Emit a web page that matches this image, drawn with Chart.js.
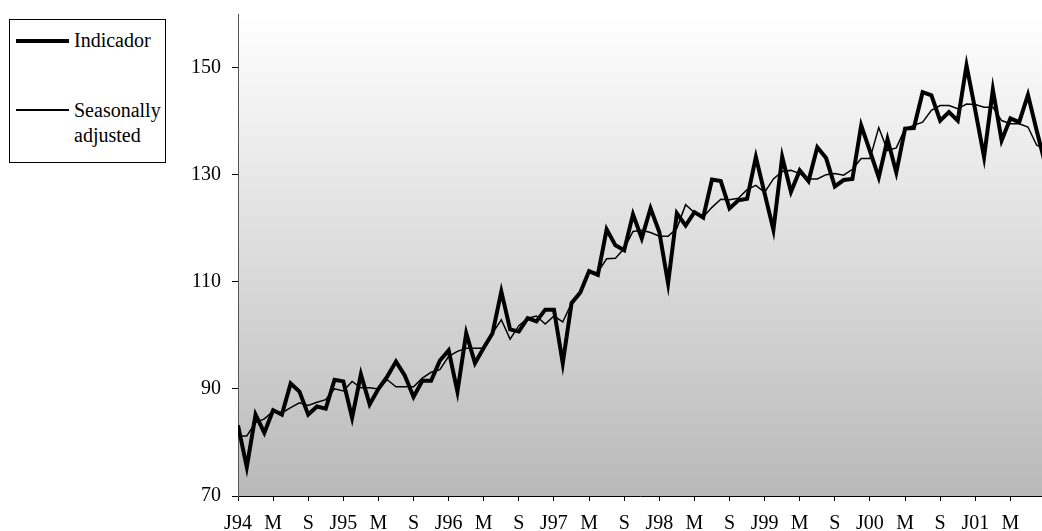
<!DOCTYPE html>
<html>
<head>
<meta charset="utf-8">
<script src="https://cdn.jsdelivr.net/npm/chart.js@4.4.0/dist/chart.umd.min.js"></script>
<style>
  html, body { margin: 0; padding: 0; background: #fff; }
  #wrap { position: relative; width: 1042px; height: 531px; }
  #legend {
    position: absolute; left: 9px; top: 19px; width: 155px; height: 142px;
    border: 1px solid #000; background: #fff;
    font-family: "Liberation Serif", "Times New Roman", serif; font-size: 20px; color: #000;
  }
  #legend .swatch { position: absolute; left: 6px; width: 53px; background: #000; }
  #legend .text { position: absolute; left: 64px; white-space: nowrap; }
</style>
</head>
<body>
<div id="wrap">
  <canvas id="chart"></canvas>
  <div id="legend"></div>
</div>
<script>
// monthly, Jan 1994 onwards
const tickLabels = ['J94', 'M', 'S', 'J95', 'M', 'S', 'J96', 'M', 'S', 'J97', 'M', 'S',
                    'J98', 'M', 'S', 'J99', 'M', 'S', 'J00', 'M', 'S', 'J01', 'M'];
const yTicks = [70, 90, 110, 130, 150];

const indicador = [
  83.2, 75.4, 85.2, 81.8, 86.0, 85.2, 91.0, 89.5, 85.2, 86.7, 86.3, 91.7,
  91.4, 84.6, 92.7, 87.1, 90.0, 92.3, 95.1, 92.5, 88.5, 91.5, 91.5, 95.3,
  97.2, 89.5, 100.4, 94.8, 97.7, 100.4, 108.2, 101.1, 100.7, 103.2, 102.6, 104.8,
  104.8, 94.8, 106.0, 108.0, 112.0, 111.3, 119.8, 116.8, 115.9, 122.6, 118.1, 123.7,
  119.3, 109.7, 122.8, 120.5, 123.0, 122.0, 129.1, 128.8, 123.7, 125.2, 125.5, 133.3,
  126.5, 119.7, 133.3, 126.8, 130.8, 128.8, 135.1, 133.1, 127.8, 129.0, 129.2, 139.2,
  134.4, 129.5, 136.6, 130.4, 138.6, 138.7, 145.4, 144.8, 140.1, 141.7, 140.1, 150.4,
  142.0, 133.3, 145.9, 136.4, 140.5, 139.8, 144.9, 138.2, 131.8
];

const seasonallyAdjusted = [
  81.2, 81.2, 83.7, 84.4, 85.8, 85.5, 86.5, 87.4, 86.9, 87.5, 88.0, 90.0,
  89.6, 91.4, 90.2, 90.2, 90.0, 91.7, 90.4, 90.4, 90.4, 92.0, 93.1, 93.6,
  96.1, 97.0, 97.6, 97.6, 97.6, 100.4, 102.9, 99.3, 101.8, 103.2, 103.6, 102.1,
  103.6, 102.5, 106.0, 107.9, 111.7, 111.8, 114.3, 114.4, 116.2, 119.4, 119.6, 119.2,
  118.5, 118.5, 120.0, 124.4, 122.9, 122.1, 123.9, 125.4, 125.3, 125.6, 127.2, 128.0,
  126.7, 129.2, 130.6, 130.8, 130.2, 129.2, 129.2, 130.0, 130.2, 129.9, 131.0, 133.0,
  133.0, 138.8, 134.5, 135.0, 138.6, 139.2, 139.8, 142.0, 142.9, 142.9, 142.3, 143.2,
  143.1, 142.6, 142.6, 140.1, 139.5, 139.5, 138.9, 135.5, 134.8
];

const seriesNames = ['Indicador', 'Seasonally adjusted'];

const serif = { family: '"Liberation Serif", "Times New Roman", serif', size: 20 };

// grey gradient behind the plot area
const plotBg = {
  id: 'plotBg',
  beforeDraw(chart) {
    const ctx = chart.ctx;
    const a = chart.chartArea;
    const g = ctx.createLinearGradient(0, a.top, 0, a.bottom);
    g.addColorStop(0, '#ffffff');
    g.addColorStop(1, '#b9b9b9');
    ctx.save();
    ctx.fillStyle = g;
    ctx.fillRect(a.left, a.top, a.right - a.left, a.bottom - a.top);
    ctx.restore();
  }
};

const ctx = document.getElementById('chart').getContext('2d');

var chart = new Chart(ctx, {
  type: 'line',
  data: {
    datasets: [
      {
        label: seriesNames[0],
        data: indicador.map((v, i) => ({ x: i, y: v })),
        borderColor: '#000',
        borderWidth: 4,
        pointRadius: 0,
        tension: 0
      },
      {
        label: seriesNames[1],
        data: seasonallyAdjusted.map((v, i) => ({ x: i, y: v })),
        borderColor: '#000',
        borderWidth: 1.5,
        pointRadius: 0,
        tension: 0
      }
    ]
  },
  options: {
    responsive: true,
    maintainAspectRatio: false,
    animation: false,
    devicePixelRatio: 1,
    layout: { padding: { top: 14, left: 0, right: 0, bottom: 0 } },
    plugins: {
      legend: { display: false },
      tooltip: { enabled: false }
    },
    scales: {
      x: {
        type: 'linear',
        min: 0,
        max: 91.6,
        afterBuildTicks: axis => {
          axis.ticks = tickLabels.map((t, i) => ({ value: i * 4 }));
        },
        afterFit: axis => { axis.height = 35; },
        ticks: {
          callback: v => tickLabels[v / 4],
          autoSkip: false,
          maxRotation: 0,
          color: '#000',
          font: serif,
          padding: 11
        },
        grid: { drawOnChartArea: false, tickLength: 5, color: '#000' },
        border: { color: '#000', width: 1 }
      },
      y: {
        min: 70,
        max: 160,
        afterBuildTicks: axis => {
          axis.ticks = yTicks.map(v => ({ value: v }));
        },
        afterFit: axis => {
          axis.width = 238;
          // top label is not at the top edge, no room needed for it
          axis.paddingTop = 0;
          axis.paddingBottom = 0;
        },
        ticks: { color: '#000', font: serif, padding: 11 },
        grid: { drawOnChartArea: false, tickLength: 6, color: '#000' },
        border: { color: '#555', width: 1 }
      }
    }
  },
  plugins: [plotBg]
});

// legend box, built from the series names
const legend = document.getElementById('legend');
legend.innerHTML =
  '<div class="swatch" style="top:18.7px;height:4px"></div>' +
  '<div class="text" style="top:8px;line-height:24px">' + seriesNames[0] + '</div>' +
  '<div class="swatch" style="top:89.3px;height:1.5px"></div>' +
  '<div class="text" style="top:78px;line-height:24.7px">' + seriesNames[1].replace(' ', '<br>') + '</div>';
</script>
</body>
</html>
